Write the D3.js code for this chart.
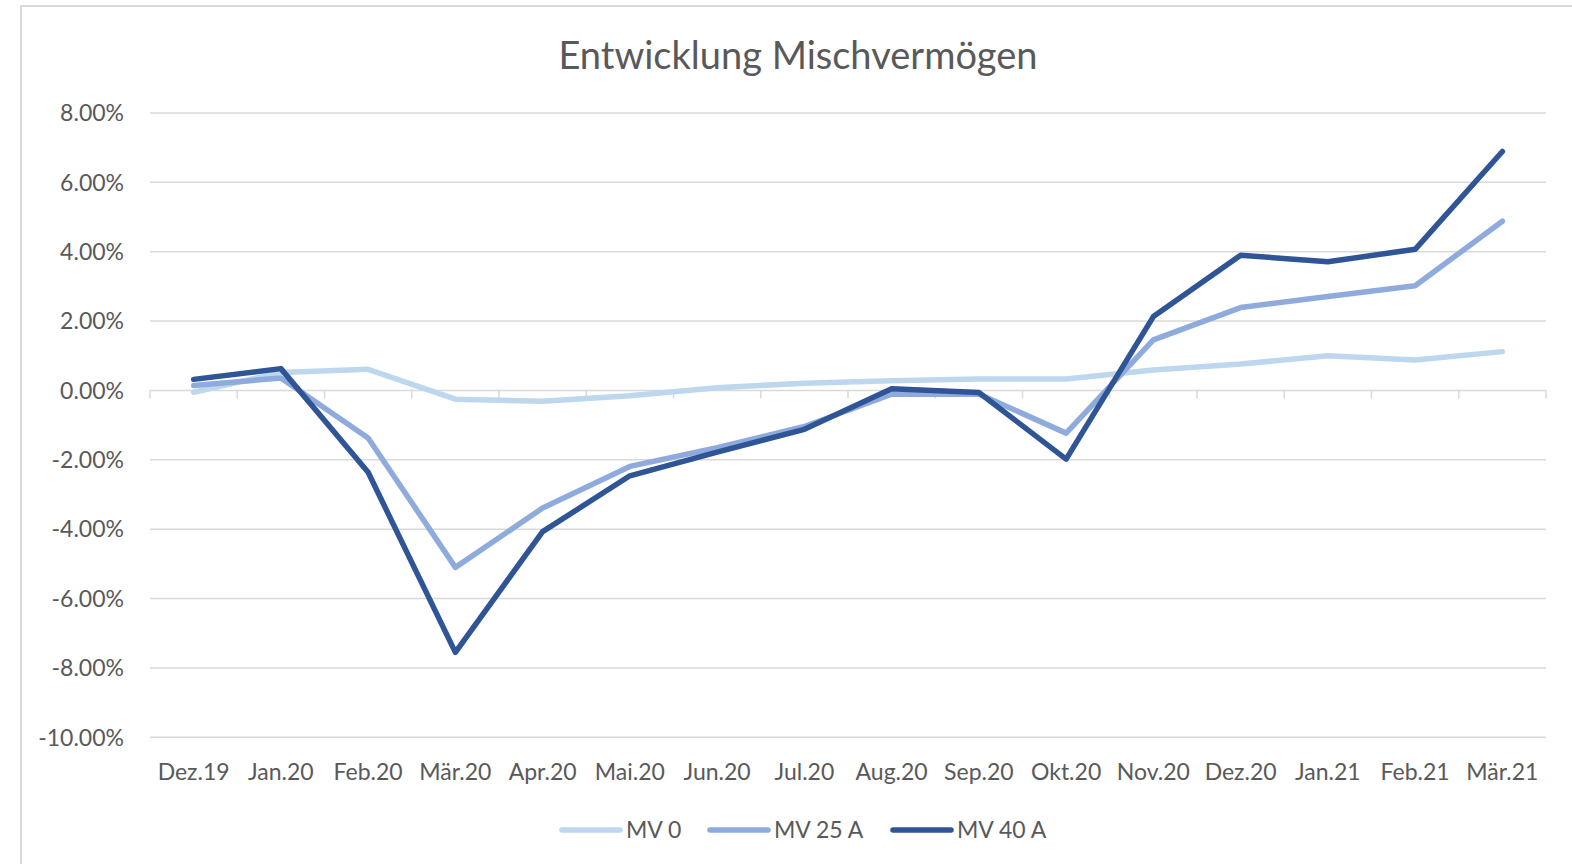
<!DOCTYPE html>
<html>
<head>
<meta charset="utf-8">
<script src="https://cdn.jsdelivr.net/npm/d3@7"></script>
<style>
  body { margin: 0; background: #fff; }
  text { font-family: Lato, "Open Sans", sans-serif; fill: #595959; }
</style>
</head>
<body>
<div id="chart"></div>
<script>
// categories and values (percent)
var months = ["Dez.19", "Jan.20", "Feb.20", "Mär.20", "Apr.20", "Mai.20", "Jun.20", "Jul.20",
              "Aug.20", "Sep.20", "Okt.20", "Nov.20", "Dez.20", "Jan.21", "Feb.21", "Mär.21"];
var mv0   = [-0.05, 0.52, 0.61, -0.25, -0.31, -0.15, 0.08, 0.21, 0.28, 0.33, 0.33, 0.59, 0.76, 1.00, 0.88, 1.12];
var mv25a = [0.14, 0.36, -1.37, -5.10, -3.39, -2.19, -1.65, -1.04, -0.11, -0.10, -1.23, 1.46, 2.39, 2.71, 3.02, 4.88];
var mv40a = [0.32, 0.63, -2.36, -7.55, -4.07, -2.46, -1.78, -1.12, 0.05, -0.06, -1.98, 2.13, 3.90, 3.71, 4.07, 6.89];
var seriesNames = ["MV 0", "MV 25 A", "MV 40 A"];
var yTicks = [8, 6, 4, 2, 0, -2, -4, -6, -8, -10];

var colors = ["#bdd7ee", "#8faadc", "#2f5597"];
var series = [mv0, mv25a, mv40a].map((v, i) => ({ name: seriesNames[i], values: v, color: colors[i] }));

var W = 1572, H = 864;
var margin = { top: 113, right: 26, bottom: 127, left: 150 };
var width = W - margin.left - margin.right;

var svg = d3.select("#chart").append("svg")
    .attr("width", W)
    .attr("height", H);

// chart frame (only top and left edges are visible)
svg.append("rect")
    .attr("x", 21).attr("y", 6)
    .attr("width", W).attr("height", H)
    .attr("fill", "none")
    .attr("stroke", "#d9d9d9")
    .attr("stroke-width", 2);

// title
svg.append("text")
    .attr("x", 798).attr("y", 69)
    .attr("text-anchor", "middle")
    .style("font-size", "38px")
    .text("Entwicklung Mischvermögen");

var x = d3.scaleBand()
    .domain(months)
    .range([margin.left, margin.left + width]);

var y = d3.scaleLinear()
    .domain([-10, 8])
    .range([737.3, 113]);

// gridlines
svg.append("g")
    .selectAll("line")
    .data(yTicks.filter(d => d !== 0))
    .join("line")
    .attr("x1", margin.left)
    .attr("x2", margin.left + width)
    .attr("y1", d => y(d))
    .attr("y2", d => y(d))
    .attr("stroke", "#d9d9d9")
    .attr("stroke-width", 1.5);

// y labels (plain hyphen for negatives, like the original)
svg.append("g")
    .selectAll("text")
    .data(yTicks)
    .join("text")
    .attr("x", 124)
    .attr("y", d => y(d))
    .attr("dy", "0.36em")
    .attr("text-anchor", "end")
    .style("font-size", "23px")
    .text(d => d.toFixed(2) + "%");

// zero axis with ticks at category boundaries
var xAxis = svg.append("g")
    .attr("transform", "translate(0," + y(0) + ")");
xAxis.append("line")
    .attr("x1", margin.left).attr("x2", margin.left + width)
    .attr("stroke", "#d9d9d9").attr("stroke-width", 1.5);
var bounds = months.map(m => x(m)).concat([margin.left + width]);
xAxis.selectAll(".tick")
    .data(bounds)
    .join("line")
    .attr("class", "tick")
    .attr("x1", d => d).attr("x2", d => d)
    .attr("y1", 0).attr("y2", 8)
    .attr("stroke", "#d9d9d9").attr("stroke-width", 1.5);

// x labels
svg.append("g")
    .selectAll("text")
    .data(months)
    .join("text")
    .attr("x", d => x(d) + x.bandwidth() / 2)
    .attr("y", 780)
    .attr("text-anchor", "middle")
    .style("font-size", "23px")
    .text(d => d);

// lines
var line = d3.line()
    .x((d, i) => x(months[i]) + x.bandwidth() / 2)
    .y(d => y(d));

svg.append("g")
    .selectAll("path")
    .data(series)
    .join("path")
    .attr("d", d => line(d.values))
    .attr("fill", "none")
    .attr("stroke", d => d.color)
    .attr("stroke-width", 5.5)
    .attr("stroke-linecap", "round")
    .attr("stroke-linejoin", "round");

// legend
var legendX = [562, 710, 893];
var legend = svg.append("g")
    .selectAll("g")
    .data(series)
    .join("g")
    .attr("transform", (d, i) => "translate(" + legendX[i] + ",830)");
legend.append("line")
    .attr("x1", 0).attr("x2", 58)
    .attr("stroke", d => d.color)
    .attr("stroke-width", 5.5)
    .attr("stroke-linecap", "round");
legend.append("text")
    .attr("x", 64)
    .attr("dy", "0.36em")
    .style("font-size", "23px")
    .text(d => d.name);
</script>
</body>
</html>
